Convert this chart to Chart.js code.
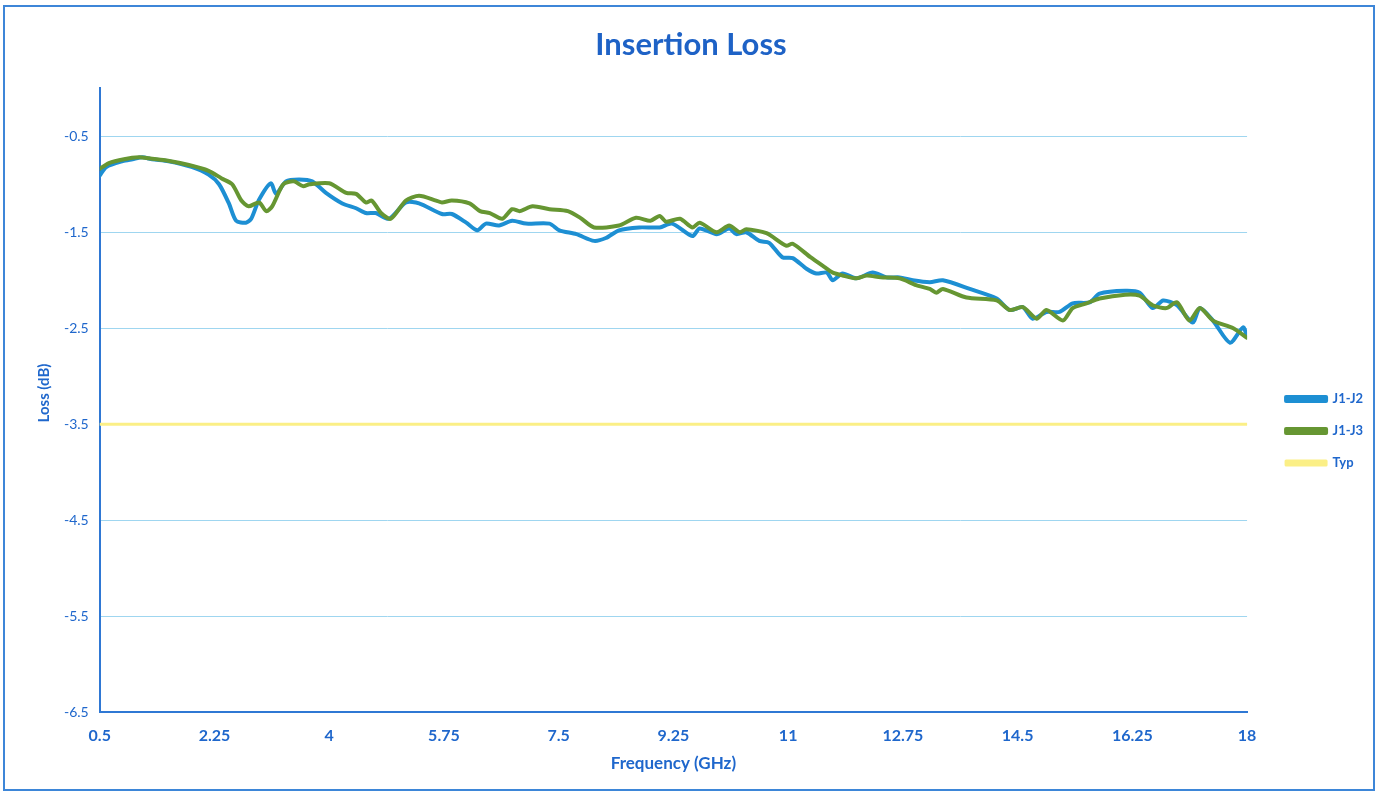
<!DOCTYPE html>
<html>
<head>
<meta charset="utf-8">
<script src="https://cdn.jsdelivr.net/npm/chart.js@4.4.1/dist/chart.umd.min.js"></script>
<style>
  body { margin: 0; background: #fff; }
  #wrap { position: relative; width: 1387px; height: 796px; }
  #frame { position: absolute; left: 3px; top: 5px; width: 1372px; height: 786px; border: 2px solid #3d86d8; box-sizing: border-box; pointer-events: none; }
  canvas { position: absolute; left: 0; top: 0; }
</style>
</head>
<body>
<div id="wrap">
  <canvas id="Graph_IL" width="1387" height="796"></canvas>
  <div id="frame"></div>
</div>
<script>
// GHz / dB
var freqJ12 = [0.5, 0.6, 0.85, 1.0, 1.15, 1.3, 1.55, 1.9, 2.16, 2.32, 2.47, 2.58, 2.73, 2.81, 2.93, 3.11, 3.19, 3.34, 3.54, 3.74,
  3.95, 4.2, 4.41, 4.56, 4.71, 4.91, 5.17, 5.37, 5.72, 5.87, 6.09, 6.26, 6.39, 6.59, 6.79, 7.0, 7.36, 7.51, 7.77, 8.04,
  8.22, 8.42, 8.73, 9.04, 9.23, 9.54, 9.65, 9.91, 10.1, 10.21, 10.36, 10.56, 10.71, 10.91, 11.07, 11.28, 11.43, 11.59, 11.68, 11.83,
  12.04, 12.29, 12.5, 12.7, 12.9, 13.16, 13.36, 13.77, 14.18, 14.38, 14.58, 14.73, 14.94, 15.14, 15.34, 15.6, 15.75, 16.14, 16.36, 16.56,
  16.72, 16.93, 17.17, 17.28, 17.48, 17.74, 17.94, 18.0];
var lossJ12 = [-0.91, -0.82, -0.76, -0.74, -0.72, -0.74, -0.76, -0.82, -0.9, -1.0, -1.2, -1.38, -1.4, -1.36, -1.16, -0.99, -1.1, -0.97, -0.95, -0.97,
  -1.09, -1.2, -1.25, -1.3, -1.3, -1.36, -1.19, -1.2, -1.31, -1.31, -1.4, -1.48, -1.41, -1.43, -1.38, -1.41, -1.41, -1.48, -1.52, -1.59,
  -1.56, -1.48, -1.45, -1.45, -1.41, -1.54, -1.46, -1.52, -1.46, -1.52, -1.5, -1.59, -1.61, -1.76, -1.77, -1.88, -1.93, -1.92, -2.0, -1.93,
  -1.98, -1.92, -1.97, -1.97, -2.0, -2.02, -2.0, -2.09, -2.19, -2.31, -2.28, -2.4, -2.33, -2.33, -2.24, -2.23, -2.14, -2.11, -2.13, -2.29,
  -2.21, -2.26, -2.44, -2.29, -2.42, -2.65, -2.49, -2.59];

var freqJ13 = [0.5, 0.64, 0.87, 1.1, 1.25, 1.5, 1.86, 2.16, 2.36, 2.52, 2.66, 2.77, 2.93, 3.04, 3.13, 3.3, 3.46, 3.6, 3.7, 4.0,
  4.26, 4.41, 4.56, 4.65, 4.79, 4.94, 5.17, 5.37, 5.63, 5.72, 5.87, 6.14, 6.3, 6.45, 6.64, 6.79, 6.91, 7.1, 7.36, 7.64,
  7.83, 8.04, 8.42, 8.68, 8.9, 9.04, 9.14, 9.35, 9.54, 9.65, 9.91, 10.1, 10.26, 10.36, 10.67, 10.97, 11.07, 11.34, 11.55, 11.68,
  11.83, 12.04, 12.2, 12.41, 12.7, 12.95, 13.16, 13.26, 13.36, 13.72, 14.18, 14.38, 14.58, 14.79, 14.94, 15.19, 15.34, 15.55, 15.75, 16.14,
  16.36, 16.56, 16.77, 16.93, 17.12, 17.28, 17.48, 17.79, 18.0];
var lossJ13 = [-0.84, -0.78, -0.74, -0.72, -0.73, -0.75, -0.8, -0.86, -0.94, -1.0, -1.17, -1.23, -1.19, -1.28, -1.23, -1.0, -0.97, -1.02, -1.0, -0.99,
  -1.09, -1.1, -1.19, -1.17, -1.3, -1.36, -1.17, -1.12, -1.17, -1.19, -1.17, -1.2, -1.28, -1.3, -1.36, -1.26, -1.28, -1.23, -1.26, -1.28,
  -1.35, -1.45, -1.43, -1.35, -1.38, -1.33, -1.39, -1.36, -1.45, -1.4, -1.5, -1.43, -1.5, -1.47, -1.51, -1.64, -1.62, -1.76, -1.86, -1.92,
  -1.95, -1.98, -1.95, -1.97, -1.98, -2.05, -2.09, -2.13, -2.09, -2.18, -2.21, -2.31, -2.28, -2.4, -2.31, -2.42, -2.29, -2.24, -2.19, -2.15,
  -2.16, -2.26, -2.29, -2.23, -2.42, -2.29, -2.42, -2.5, -2.6];

var freqTyp = [0.5, 18];
var lossTyp = [-3.5, -3.5];

var xTicks = [0.5, 2.25, 4, 5.75, 7.5, 9.25, 11, 12.75, 14.5, 16.25, 18];
var yTicks = [-0.5, -1.5, -2.5, -3.5, -4.5, -5.5, -6.5];

function toPoints(xs, ys) {
    var pts = [];
    for (var i = 0; i < xs.length; i++) {
        pts.push({ x: xs[i], y: ys[i] });
    }
    return pts;
}

var textBlue = "#1f67cc";
var axisBlue = "#2f78d4";

// legend sits a bit further away from the plot than chart.js puts it
const legendGap = {
    id: "legendGap",
    afterLayout: function (chart) {
        if (chart.legend) {
            chart.legend.left += 20;
            chart.legend.right += 20;
        }
    }
};

const ctx = document.getElementById("Graph_IL").getContext("2d");
var graph = new Chart(ctx, {
    type: "line",
    data: {
        datasets: [{
            label: "J1-J2",
            data: toPoints(freqJ12, lossJ12),
            borderColor: "#1d8fd3",
            backgroundColor: "#1d8fd3",
            borderWidth: 4,
            order: 2
        }, {
            label: "J1-J3",
            data: toPoints(freqJ13, lossJ13),
            borderColor: "#669632",
            backgroundColor: "#669632",
            borderWidth: 4,
            order: 1
        }, {
            label: "Typ",
            data: toPoints(freqTyp, lossTyp),
            borderColor: "#fbef86",
            backgroundColor: "#fbef86",
            borderWidth: 3,
            order: 3
        }]
    },
    options: {
        responsive: false,
        animation: false,
        elements: {
            point: { radius: 0 },
            line: { tension: 0.25, borderCapStyle: "round", borderJoinStyle: "round" }
        },
        layout: { padding: { left: 29, right: 34, top: 0, bottom: 22 } },
        plugins: {
            title: {
                display: true,
                text: "Insertion Loss",
                color: "#1e62c6",
                font: { family: "Lato", size: 31, weight: "bold" },
                padding: { top: 26, bottom: 25 }
            },
            legend: {
                position: "right",
                title: { display: true, text: " ", font: { size: 10 }, padding: { top: 76, bottom: 0 } },
                labels: {
                    boxWidth: 40,
                    boxHeight: 4,
                    padding: 19,
                    color: textBlue,
                    font: { family: "Lato", size: 13, weight: "bold" },
                    sort: function (a, b) { return a.datasetIndex - b.datasetIndex; }
                }
            },
            tooltip: { enabled: false }
        },
        scales: {
            x: {
                type: "linear",
                min: 0.5,
                max: 18,
                afterBuildTicks: function (scale) {
                    scale.ticks = xTicks.map(function (v) { return { value: v }; });
                },
                ticks: {
                    color: textBlue,
                    font: { family: "Lato", size: 16, weight: "bold" },
                    padding: 14,
                    maxRotation: 0,
                    callback: function (v) { return String(v); }
                },
                grid: { display: false, drawTicks: false },
                border: { display: true, color: axisBlue, width: 2 },
                title: {
                    display: true,
                    text: "Frequency (GHz)",
                    color: textBlue,
                    font: { family: "Lato", size: 17, weight: "bold" },
                    padding: { top: -6, bottom: 0 }
                }
            },
            y: {
                min: -6.5,
                max: 0,
                afterBuildTicks: function (scale) {
                    scale.ticks = yTicks.map(function (v) { return { value: v }; });
                },
                ticks: {
                    color: textBlue,
                    font: { family: "Lato", size: 14 },
                    padding: 11,
                    callback: function (v) { return String(v); }
                },
                grid: {
                    color: "#9fd6f0",
                    lineWidth: 1,
                    drawTicks: false
                },
                border: { display: true, color: axisBlue, width: 2 },
                title: {
                    display: true,
                    text: "    Loss (dB)",
                    color: textBlue,
                    font: { family: "Lato", size: 15, weight: "bold" },
                    padding: { top: 6, bottom: 0 }
                }
            }
        }
    },
    plugins: [legendGap]
});
</script>
</body>
</html>
